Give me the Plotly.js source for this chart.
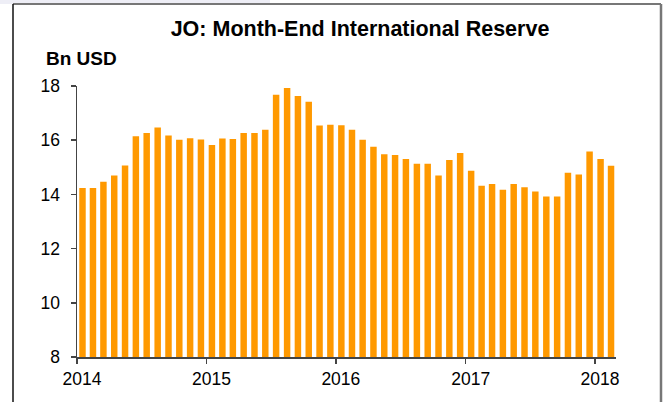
<!DOCTYPE html>
<html>
<head>
<meta charset="utf-8">
<script src="https://cdn.plot.ly/plotly-3.0.1.min.js"></script>
<style>
  html, body { margin: 0; padding: 0; background: #ffffff; }
  #chart { width: 669px; height: 402px; }
</style>
</head>
<body>
<div id="chart"></div>
<script>
// Month-end dates (Jan 2014 - Feb 2018)
var months = [
  "2014-01","2014-02","2014-03","2014-04","2014-05","2014-06","2014-07","2014-08","2014-09","2014-10","2014-11","2014-12",
  "2015-01","2015-02","2015-03","2015-04","2015-05","2015-06","2015-07","2015-08","2015-09","2015-10","2015-11","2015-12",
  "2016-01","2016-02","2016-03","2016-04","2016-05","2016-06","2016-07","2016-08","2016-09","2016-10","2016-11","2016-12",
  "2017-01","2017-02","2017-03","2017-04","2017-05","2017-06","2017-07","2017-08","2017-09","2017-10","2017-11","2017-12",
  "2018-01","2018-02"
];
// International reserves, Bn USD
var reserves = [
  14.24, 14.24, 14.47, 14.70, 15.07, 16.15, 16.27, 16.47, 16.17, 16.02, 16.07, 16.03,
  15.82, 16.06, 16.04, 16.27, 16.27, 16.39, 17.68, 17.93, 17.63, 17.42, 16.54, 16.57,
  16.55, 16.39, 16.02, 15.76, 15.48, 15.45, 15.31, 15.13, 15.13, 14.70, 15.27, 15.53,
  14.87, 14.32, 14.38, 14.17, 14.38, 14.26, 14.11, 13.92, 13.92, 14.80, 14.73, 15.58,
  15.31, 15.06
];
var yTicks = [8, 10, 12, 14, 16, 18];
var titleText = "JO: Month-End International Reserve";
var unitText = "Bn USD";

var W = 669, H = 402;
var M = {l: 77, r: 53, t: 86, b: 45};
var PW = W - M.l - M.r, PH = H - M.t - M.b;
function px(x) { return (x - M.l) / PW; }
function py(y) { return 1 - (y - M.t) / PH; }

var DAY = 86400000;

var trace = {
  type: "bar",
  x: months,
  y: reserves,
  xperiod: "M1",
  xperiodalignment: "middle",
  width: 0.6 * 30.44 * DAY,
  marker: { color: "#FF9900", line: { width: 0 } },
  base: 0,
  hoverinfo: "x+y"
};

var layout = {
  width: W, height: H,
  margin: M,
  paper_bgcolor: "#ffffff",
  plot_bgcolor: "#ffffff",
  showlegend: false,
  font: { family: "Arial, 'Liberation Sans', sans-serif", color: "#000000" },
  title: {
    text: "<b>" + titleText + "</b>",
    font: { size: 21.5, color: "#000000", family: "Arial, 'Liberation Sans', sans-serif" },
    xref: "container", x: 360 / W, xanchor: "center",
    yref: "container", y: 1 - 28 / H, yanchor: "middle"
  },
  xaxis: {
    type: "date",
    range: ["2014-01-01", "2018-03-01"],
    tick0: "2014-01-01",
    dtick: "M12",
    tickformat: "%Y",
    ticks: "outside", ticklen: 5, tickwidth: 1.5, tickcolor: "#444444",
    ticklabelshift: 5,
    showline: true, linecolor: "#444444", linewidth: 1.5,
    showgrid: false, zeroline: false,
    tickfont: { size: 17.5, color: "#000000" },
    fixedrange: true
  },
  yaxis: {
    range: [8, 18],
    tickvals: yTicks,
    ticktext: yTicks.map(String),
    ticks: "outside", ticklen: 5, tickwidth: 1.5, tickcolor: "#444444",
    ticklabelstandoff: 7,
    showline: true, linecolor: "#444444", linewidth: 1.5,
    showgrid: false, zeroline: false,
    tickfont: { size: 17.5, color: "#000000" },
    fixedrange: true
  },
  annotations: [
    {
      text: "<b>" + unitText + "</b>",
      xref: "paper", yref: "paper",
      x: px(44), y: py(58), xanchor: "left", yanchor: "middle",
      showarrow: false,
      font: { size: 19, color: "#000000" }
    }
  ],
  shapes: [
    { type: "rect", xref: "paper", yref: "paper", x0: px(0), x1: px(270), y0: py(0), y1: py(4),
      fillcolor: "#eeeef6", line: { width: 0 }, layer: "below" },
    { type: "line", xref: "paper", yref: "paper", x0: px(13), x1: px(661), y0: py(4), y1: py(4),
      line: { color: "#777777", width: 2 } },
    { type: "line", xref: "paper", yref: "paper", x0: px(13), x1: px(13), y0: py(4), y1: py(410),
      line: { color: "#111111", width: 1.5 } },
    { type: "line", xref: "paper", yref: "paper", x0: px(661), x1: px(661), y0: py(4), y1: py(410),
      line: { color: "#777777", width: 2.5 } }
  ]
};

Plotly.newPlot("chart", [trace], layout, { displayModeBar: false, staticPlot: true });
</script>
</body>
</html>
